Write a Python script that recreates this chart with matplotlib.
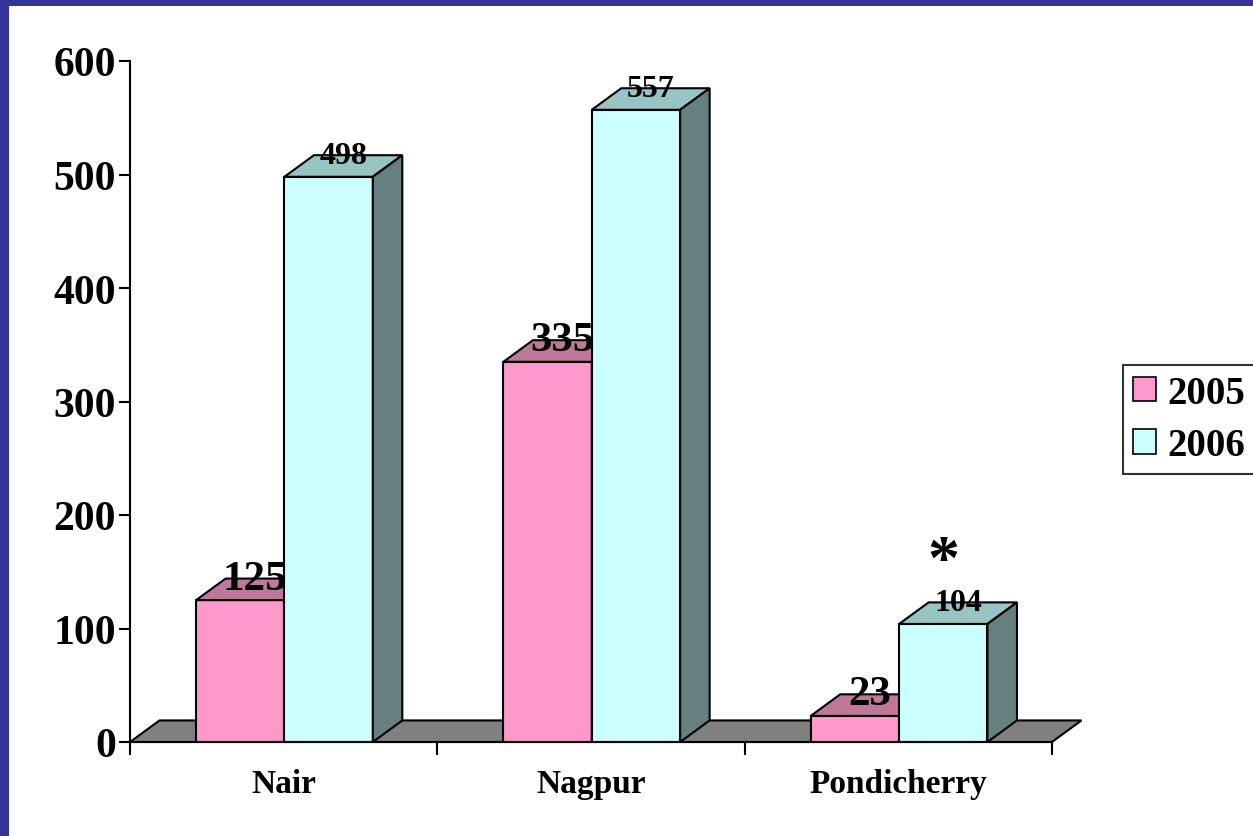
import matplotlib
matplotlib.use('Agg')
import matplotlib.pyplot as plt
from matplotlib.patches import Polygon, Rectangle

categories = ['Nair', 'Nagpur', 'Pondicherry']
years = ['2005', '2006']
vals_2005 = [125, 335, 23]
vals_2006 = [498, 557, 104]

plt.rcParams['font.family'] = ['Liberation Serif', 'DejaVu Serif']
plt.rcParams['font.weight'] = 'bold'

fig = plt.figure(figsize=(12.53, 8.37), dpi=100)
ax = fig.add_axes([130/1253, 1 - 743/837, (1052-130)/1253, (743-62)/837])

# 3d look: offset of the back faces
dx, dy = 0.096, 19
bar_w = 0.2875
start = 0.215

face = {'2005': '#FF99CC', '2006': '#CCFFFF'}
top = {'2005': '#C0789A', '2006': '#99C4C4'}
side = {'2005': '#996080', '2006': '#668080'}


def box(x0, w, h, yr):
    # front face, top face, right face
    ax.add_patch(Rectangle((x0, 0), w, h, fc=face[yr], ec='black', lw=1.5, zorder=3))
    ax.add_patch(Polygon([(x0, h), (x0 + dx, h + dy), (x0 + w + dx, h + dy), (x0 + w, h)],
                         closed=True, fc=top[yr], ec='black', lw=1.5, zorder=3))
    ax.add_patch(Polygon([(x0 + w, 0), (x0 + w + dx, dy), (x0 + w + dx, h + dy), (x0 + w, h)],
                         closed=True, fc=side[yr], ec='black', lw=1.5, zorder=3))


# floor
ax.add_patch(Polygon([(0, 0), (dx, dy), (3 + dx, dy), (3, 0)], closed=True,
                     fc='#808080', ec='black', lw=1.5, zorder=1, clip_on=False))

for i in range(len(categories)):
    x1 = i + start
    x2 = x1 + bar_w
    box(x1, bar_w, vals_2005[i], '2005')
    box(x2, bar_w, vals_2006[i], '2006')
    ax.text(x1 + bar_w/2 + dx/2, vals_2005[i] + dy, str(vals_2005[i]), ha='center', va='center',
            fontsize=31, fontweight='bold', zorder=5)
    ax.text(x2 + bar_w/2 + dx/2, vals_2006[i] + dy, str(vals_2006[i]), ha='center', va='center',
            fontsize=23, fontweight='bold', zorder=5)

ax.text(2.648, 158, '*', ha='center', va='center', fontsize=46, fontweight='bold')

ax.set_xlim(0, 3)
ax.set_ylim(0, 600)
ax.set_yticks(range(0, 601, 100))
ax.set_xticks([0, 1, 2, 3])
ax.set_xticklabels([])
ax.set_xticks([0.5, 1.5, 2.5], minor=True)
ax.set_xticklabels(categories, minor=True, fontsize=24, fontweight='bold')
ax.tick_params(axis='x', which='minor', length=0, pad=19)
ax.tick_params(axis='x', which='major', length=9, width=1.5, direction='out')
ax.tick_params(axis='y', length=8, width=1.5, labelsize=30, pad=2)
for t in ax.get_yticklabels():
    t.set_fontweight('bold')
ax.spines['top'].set_visible(False)
ax.spines['right'].set_visible(False)
ax.spines['left'].set_linewidth(1.5)
ax.spines['bottom'].set_linewidth(1.5)
ax.spines['bottom'].set_zorder(4)
ax.patch.set_visible(False)

# legend
handles = [Rectangle((0, 0), 1, 1, fc=face[y], ec='black', lw=1.2) for y in years]
leg = fig.legend(handles, years, loc='upper left', bbox_to_anchor=(1123/1253, 1 - 366/837),
                 prop={'weight': 'bold', 'size': 28}, frameon=True, fancybox=False,
                 handlelength=0.6, handleheight=0.6, handletextpad=0.3, borderpad=0.25,
                 labelspacing=0.4, borderaxespad=0)
leg.get_frame().set_edgecolor('black')
leg.get_frame().set_linewidth(1.5)

# blue frame at left and top
fig.patches.append(Rectangle((0, 0), 9/1253, 1, transform=fig.transFigure, fc='#333399', ec='none'))
fig.patches.append(Rectangle((0, 1 - 7/837), 1, 7/837, transform=fig.transFigure, fc='#333399', ec='none'))

fig.savefig('out.png', dpi=100)
